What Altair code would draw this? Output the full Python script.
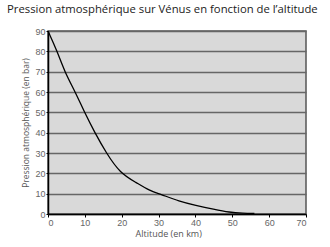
import altair as alt
import pandas as pd

altitude = [0, 2.5, 4.5, 7.4, 9.9, 12.7, 15.8, 19.6, 23.9, 27.6, 30.3, 35.7, 40, 45, 49.2, 53, 56]
pression = [90, 80, 70, 60, 50, 40, 30, 20, 15.5, 11.4, 9.9, 6.2, 4.3, 2.3, 0.8, 0.4, 0.3]

x_ticks = [0, 10, 20, 30, 40, 50, 60, 70]
y_ticks = [0, 10, 20, 30, 40, 50, 60, 70, 80, 90]

df = pd.DataFrame({"altitude": altitude, "pression": pression})

line = alt.Chart(df).mark_line(color="black", strokeWidth=1.3, interpolate="basis").encode(
    x=alt.X("altitude:Q",
            scale=alt.Scale(domain=[0, 70], nice=False),
            axis=alt.Axis(values=x_ticks, title="Altitude (en km)", grid=False,
                          domainColor="black", domainWidth=1.5, tickColor="black",
                          tickSize=3, labelPadding=1, labelColor="#666666",
                          labelFont="Liberation Sans", labelFontSize=9,
                          titleFont="Open Sans", titleFontSize=9, titleFontWeight="normal",
                          titleColor="#555555", titleAnchor="start", titleAlign="left",
                          titleBaseline="middle", titleX=87, titleY=19)),
    y=alt.Y("pression:Q",
            scale=alt.Scale(domain=[0, 90], nice=False),
            axis=alt.Axis(values=y_ticks, title="Pression atmosphérique (en bar)", grid=True,
                          gridColor="#666666", gridWidth=1.5,
                          domainColor="black", domainWidth=1.5, tickColor="black",
                          tickSize=2, labelPadding=1, labelColor="#666666",
                          labelFont="Liberation Sans", labelFontSize=9,
                          titleFont="Open Sans", titleFontSize=8.5, titleFontWeight="normal",
                          titleColor="#555555", titleAngle=-90, titleAlign="center",
                          titleBaseline="middle", titleX=-23, titleY=91.5)),
)

chart = line.properties(
    width=258,
    height=183,
    title=alt.TitleParams("Pression atmosphérique sur Vénus en fonction de l’altitude",
                          font="Open Sans", fontSize=11.3, fontWeight="normal", color="#222222",
                          anchor="start", frame="group", dx=-41, dy=13,
                          baseline="alphabetic", offset=16),
    autosize=alt.AutoSizeParams(type="none"),
    padding={"left": 48, "top": 31, "right": 23, "bottom": 33},
).configure_view(fill="#d9d9d9", stroke="#555555", strokeWidth=1.5)

chart.save("out.html", embed_options={"renderer": "svg", "actions": False})
